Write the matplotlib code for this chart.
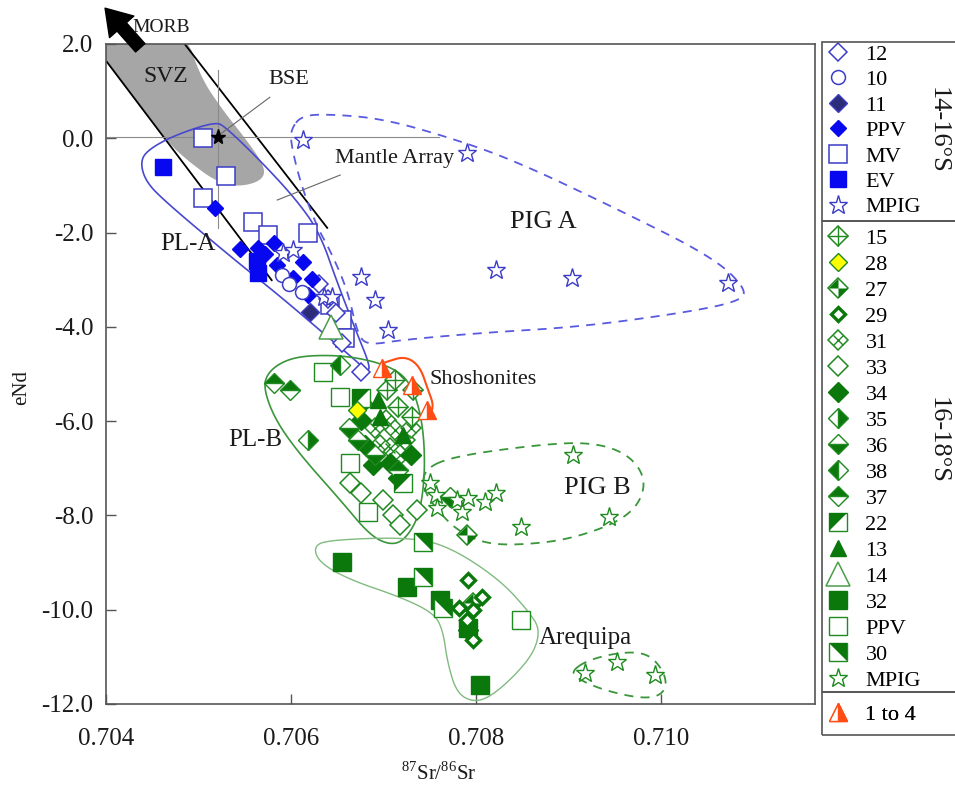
import numpy as np
import matplotlib
matplotlib.use("Agg")
import matplotlib.pyplot as plt
from matplotlib.path import Path
from matplotlib.patches import Polygon, Rectangle
from matplotlib.legend_handler import HandlerTuple

plt.rcParams["font.family"] = ["Liberation Serif", "DejaVu Serif"]
plt.rcParams["mathtext.fontset"] = "custom"
plt.rcParams["mathtext.rm"] = "Liberation Serif"

# ─── data (87Sr/86Sr, eNd) ────────────────────────────────────────────────────

# 14-16°S
sr_12 = [0.70675, 0.70655, 0.70630, 0.70640, 0.70648]
nd_12 = [-4.95, -4.35, -3.10, -3.40, -3.70]
sr_10 = [0.70612, 0.70590, 0.70598]
nd_10 = [-3.26, -2.90, -3.10]
sr_11 = [0.70620]
nd_11 = [-3.68]
sr_ppv_a = [0.70518, 0.70564, 0.70581, 0.70585, 0.70613, 0.70602, 0.70623, 0.70618, 0.70545, 0.70572]
nd_ppv_a = [-1.48, -2.33, -2.22, -2.69, -2.62, -2.97, -2.99, -3.32, -2.35, -2.45]
sr_mv = [0.70505, 0.70530, 0.70505, 0.70559, 0.70575, 0.70618, 0.70642, 0.70655, 0.70658]
nd_mv = [0.00, -0.80, -1.27, -1.78, -2.05, -2.01, -3.54, -3.86, -4.24]
sr_ev = [0.70462, 0.70563, 0.70564]
nd_ev = [-0.61, -2.60, -2.85]
sr_mpig_a = [0.70591, 0.70602, 0.70635, 0.70644, 0.70613, 0.70790, 0.70675, 0.70691,
             0.70705, 0.70821, 0.70904, 0.71072]
nd_mpig_a = [-2.43, -2.37, -3.37, -3.37, -0.04, -0.31, -2.94, -3.43, -4.07, -2.80, -2.96, -3.08]

# 16-18°S
sr_15 = [0.70704, 0.70715, 0.70732, 0.70712, 0.70731]
nd_15 = [-5.34, -5.70, -5.34, -5.13, -5.91]
sr_28 = [0.70671]
nd_28 = [-5.76]
sr_27 = [0.70790, 0.70797]
nd_27 = [-8.42, -9.86]
sr_29 = [0.70791, 0.70806, 0.70796, 0.70781, 0.70790, 0.70796]
nd_29 = [-9.37, -9.73, -10.01, -9.96, -10.22, -10.64]
sr_31 = [0.70691, 0.70702, 0.70712, 0.70723, 0.70707, 0.70718, 0.70696, 0.70729]
nd_31 = [-6.15, -5.98, -6.19, -6.40, -6.57, -6.72, -6.51, -6.15]
sr_33 = [0.70664, 0.70675, 0.70699, 0.70710, 0.70736, 0.70718]
nd_33 = [-7.31, -7.52, -7.67, -7.99, -7.89, -8.20]
sr_34 = [0.70675, 0.70688, 0.70707, 0.70715, 0.70729, 0.70791, 0.70680]
nd_34 = [-5.98, -6.93, -6.89, -7.21, -6.72, -10.43, -6.51]
sr_35 = [0.70618, 0.70677]
nd_35 = [-6.40, -5.62]
sr_36 = [0.70662, 0.70672, 0.70691, 0.70772]
nd_36 = [-6.15, -6.40, -6.72, -7.61]
sr_38 = [0.70653]
nd_38 = [-4.81]
sr_37 = [0.70581, 0.70599, 0.70716]
nd_37 = [-5.19, -5.34, -7.04]
sr_22 = [0.70675, 0.70721]
nd_22 = [-5.51, -7.31]
sr_13 = [0.70696, 0.70721, 0.70694]
nd_13 = [-5.91, -6.29, -5.55]
sr_14 = [0.70643]
nd_14 = [-4.00]
sr_32 = [0.70655, 0.70725, 0.70761, 0.70804, 0.70791]
nd_32 = [-8.99, -9.52, -9.79, -11.60, -10.39]
sr_ppv_b = [0.70634, 0.70653, 0.70664, 0.70683, 0.70848]
nd_ppv_b = [-4.96, -5.49, -6.89, -7.93, -10.22]
sr_30 = [0.70742, 0.70742, 0.70764]
nd_30 = [-8.56, -9.31, -9.96]
sr_mpig_b = [0.70750, 0.70756, 0.70758, 0.70779, 0.70785, 0.70791, 0.70810, 0.70821,
             0.70848, 0.70905, 0.70943, 0.70918, 0.70952, 0.70993]
nd_mpig_b = [-7.31, -7.57, -7.84, -7.67, -7.93, -7.63, -7.72, -7.52,
             -8.25, -6.72, -8.03, -11.34, -11.11, -11.39]

# Shoshonites, samples 1 to 4
sr_sho = [0.70698, 0.70731, 0.70747]
nd_sho = [-4.87, -5.23, -5.76]

# reference fields (outline vertices, smoothed before drawing)
svz_field = [(0.70390, 2.30), (0.70485, 2.30), (0.70502, 1.30), (0.70526, 0.60), (0.70552, -0.04),
             (0.70572, -0.61), (0.70569, -0.89), (0.70545, -1.03), (0.70520, -0.93),
             (0.70491, -0.52), (0.70464, -0.04), (0.70401, 1.60), (0.70390, 1.85)]
pl_a = [(0.70437, -0.46), (0.70448, -0.21), (0.70475, 0.07), (0.70518, 0.35), (0.70529, 0.24),
        (0.70566, -0.46), (0.70606, -1.31), (0.70631, -2.01), (0.70650, -3.07), (0.70671, -4.13),
        (0.70685, -4.81), (0.70683, -4.96), (0.70669, -4.70), (0.70631, -4.07), (0.70588, -3.35),
        (0.70534, -2.50), (0.70462, -1.31), (0.70442, -0.89)]
pig_a = [(0.70601, 0.22), (0.70610, 0.45), (0.70631, 0.52), (0.70696, 0.43), (0.70769, 0.03),
         (0.70840, -0.46), (0.70948, -1.46), (0.71056, -2.52), (0.71093, -3.22), (0.71083, -3.47),
         (0.71021, -3.71), (0.70912, -4.00), (0.70804, -4.13), (0.70718, -4.28), (0.70683, -4.39),
         (0.70672, -4.17), (0.70661, -3.22), (0.70642, -2.37), (0.70628, -1.88), (0.70610, -0.95),
         (0.70599, -0.04)]
pl_b = [(0.70570, -5.30), (0.70575, -4.96), (0.70594, -4.70), (0.70621, -4.60), (0.70664, -4.62),
        (0.70707, -4.83), (0.70729, -5.17), (0.70742, -5.98), (0.70745, -7.04), (0.70739, -7.99),
        (0.70723, -8.52), (0.70707, -8.63), (0.70685, -8.42), (0.70653, -7.67), (0.70610, -6.72),
        (0.70583, -5.98)]
pig_b = [(0.70743, -7.04), (0.70772, -6.76), (0.70862, -6.51), (0.70923, -6.44), (0.70963, -6.68),
         (0.70983, -7.19), (0.70977, -7.74), (0.70952, -8.16), (0.70898, -8.52), (0.70844, -8.63),
         (0.70808, -8.59), (0.70779, -8.31), (0.70758, -7.89), (0.70743, -7.46)]
arequipa = [(0.70624, -8.67), (0.70639, -8.52), (0.70729, -8.46), (0.70772, -8.67), (0.70826, -9.37),
            (0.70858, -10.07), (0.70869, -10.43), (0.70862, -10.92), (0.70840, -11.43),
            (0.70815, -11.85), (0.70797, -11.96), (0.70779, -11.77), (0.70769, -11.13),
            (0.70764, -10.43), (0.70754, -10.07), (0.70718, -9.73), (0.70664, -9.37), (0.70631, -9.01)]
areq_pig = [(0.70902, -11.32), (0.70920, -11.07), (0.70956, -10.90), (0.70985, -10.92),
            (0.71002, -11.28), (0.71006, -11.64), (0.70996, -11.85), (0.70974, -11.87),
            (0.70937, -11.70), (0.70912, -11.49)]
shoshonite_arc = [(0.70702, -4.75), (0.70723, -4.62), (0.70739, -4.83), (0.70748, -5.34),
                  (0.70754, -5.66), (0.70750, -5.87)]

mantle_left = ([0.70401, 0.70579], [1.62, -3.01])
mantle_right = ([0.70485, 0.70639], [2.00, -1.90])
bse = (0.70521, 0.03)

x_ticks = [0.704, 0.706, 0.708, 0.710]
x_tick_labels = ["0.704", "0.706", "0.708", "0.710"]
y_ticks = [2, 0, -2, -4, -6, -8, -10, -12]
y_tick_labels = ["2.0", "0.0", "-2.0", "-4.0", "-6.0", "-8.0", "-10.0", "-12.0"]


# ─── helpers ──────────────────────────────────────────────────────────────────

def chaikin(pts, n=4, closed=True):
    """Corner-cutting to turn an outline into a smooth curve."""
    p = np.asarray(pts, float)
    for _ in range(n):
        if closed:
            q = np.roll(p, -1, axis=0)
            a = 0.75 * p + 0.25 * q
            b = 0.25 * p + 0.75 * q
            p = np.empty((2 * len(a), 2))
            p[0::2], p[1::2] = a, b
        else:
            a = 0.75 * p[:-1] + 0.25 * p[1:]
            b = 0.25 * p[:-1] + 0.75 * p[1:]
            mid = np.empty((2 * len(a), 2))
            mid[0::2], mid[1::2] = a, b
            p = np.vstack([p[:1], mid, p[-1:]])
    return p


M, L, C = Path.MOVETO, Path.LINETO, Path.CLOSEPOLY
QUARTERS = Path([(0, 0), (-1, 0), (0, 1), (0, 0), (0, 0), (1, 0), (0, -1), (0, 0)],
                [M, L, L, C, M, L, L, C])
TRI_UL = Path([(-1, -1), (-1, 1), (1, 1), (-1, -1)], [M, L, L, C])
TRI_UR = Path([(-1, 1), (1, 1), (1, -1), (-1, 1)], [M, L, L, C])

BLUE = "#3c3cc8"
BLUE_F = "#0808f0"
NAVY = "#2c2c78"
GREEN = "#0b780b"
GREEN_E = "#1f8a1f"
ORANGE = "#ff4d14"

D = 10.0   # diamond size (green group)


def open_d(ms=D, ec=GREEN_E, mew=1.1):
    return dict(marker="D", ms=ms, mfc="white", mec=ec, mew=mew)


def half_d(side):
    return dict(marker="D", ms=D, mfc=GREEN, mfcalt="white", mec=GREEN_E, mew=1.0, fillstyle=side)


STYLES = {
    "12": [dict(marker="D", ms=9.5, mfc="white", mec=BLUE, mew=1.1)],
    "10": [dict(marker="o", ms=10, mfc="white", mec=BLUE, mew=1.1)],
    "11": [dict(marker="D", ms=9, mfc=NAVY, mec=BLUE, mew=1.0)],
    "PPV_a": [dict(marker="D", ms=8, mfc=BLUE_F, mec=BLUE_F, mew=1.0)],
    "MV": [dict(marker="s", ms=13, mfc="white", mec=BLUE, mew=1.1)],
    "EV": [dict(marker="s", ms=12, mfc=BLUE_F, mec=BLUE_F, mew=1.0)],
    "MPIG_a": [dict(marker="*", ms=14, mfc="white", mec=BLUE, mew=1.0)],
    "15": [open_d(), dict(marker="+", ms=D * 1.414, mec=GREEN_E, mew=1.0)],
    "28": [dict(marker="D", ms=D * 0.9, mfc="#ffff00", mec=GREEN_E, mew=1.0)],
    "27": [open_d(), dict(marker=QUARTERS, ms=D * 1.414, mfc=GREEN, mec="none", mew=0)],
    "29": [open_d(ms=7.5, ec=GREEN, mew=2.4)],
    "31": [open_d(), dict(marker="x", ms=D * 0.707, mec=GREEN_E, mew=1.0)],
    "33": [open_d()],
    "34": [dict(marker="D", ms=D, mfc=GREEN, mec=GREEN, mew=1.0)],
    "35": [half_d("right")],
    "36": [half_d("bottom")],
    "38": [half_d("left")],
    "37": [half_d("top")],
    "22": [dict(marker="s", ms=13, mfc="white", mec=GREEN_E, mew=1.0),
           dict(marker=TRI_UL, ms=13, mfc=GREEN, mec="none", mew=0)],
    "13": [dict(marker="^", ms=12, mfc=GREEN, mec=GREEN, mew=1.0)],
    "14": [dict(marker="^", ms=17, mfc="white", mec="#4a9e4a", mew=1.1)],
    "32": [dict(marker="s", ms=12.5, mfc=GREEN, mec=GREEN, mew=1.0)],
    "PPV_b": [dict(marker="s", ms=13, mfc="white", mec=GREEN_E, mew=1.0)],
    "30": [dict(marker="s", ms=13, mfc="white", mec=GREEN_E, mew=1.0),
           dict(marker=TRI_UR, ms=13, mfc=GREEN, mec="none", mew=0)],
    "MPIG_b": [dict(marker="*", ms=14, mfc="white", mec=GREEN_E, mew=1.0)],
    "tri": [dict(marker="^", ms=13, mfc=ORANGE, mfcalt="white", mec=ORANGE, mew=1.0,
                 fillstyle="right")],
}


def draw(ax, xs, ys, key, z=5):
    return tuple(ax.plot(xs, ys, ls="none", zorder=z, **layer)[0] for layer in STYLES[key])


# ─── figure ───────────────────────────────────────────────────────────────────

fig = plt.figure(figsize=(9.55, 7.87), dpi=100)
ax = fig.add_axes([106 / 955, 83 / 787, 709 / 955, 660 / 787])
ax.set_xlim(0.704, 0.71166)
ax.set_ylim(-12, 2)

# fields
ax.add_patch(Polygon(chaikin(svz_field, 3), closed=True, fc="#a6a6a6", ec="none", zorder=1))
ax.plot(*mantle_left, color="black", lw=1.3, zorder=2)
ax.plot(*mantle_right, color="black", lw=1.3, zorder=2)
ax.plot([0.7040, 0.7076], [bse[1], bse[1]], color="#8a8a8a", lw=0.8, zorder=2)
ax.plot([bse[0], bse[0]], [1.45, -1.9], color="#8a8a8a", lw=0.8, zorder=2)

ax.add_patch(Polygon(chaikin(pl_a), closed=True, fill=False, ec="#4848d0", lw=1.2, zorder=3))
ax.add_patch(Polygon(chaikin(pig_a), closed=True, fill=False, ec="#5a5ae0", lw=1.3,
                     ls=(0, (5, 4)), zorder=3))
ax.add_patch(Polygon(chaikin(pl_b), closed=True, fill=False, ec="#3a963a", lw=1.2, zorder=3))
ax.add_patch(Polygon(chaikin(pig_b), closed=True, fill=False, ec="#3a963a", lw=1.3,
                     ls=(0, (5, 4)), zorder=3))
ax.add_patch(Polygon(chaikin(arequipa), closed=True, fill=False, ec="#80bb80", lw=1.0, zorder=3))
ax.add_patch(Polygon(chaikin(areq_pig), closed=True, fill=False, ec="#3a963a", lw=1.3,
                     ls=(0, (5, 4)), zorder=3))
arc = chaikin(shoshonite_arc, closed=False)
ax.plot(arc[:, 0], arc[:, 1], color=ORANGE, lw=1.5, zorder=3)

# points
h = {}
h["12"] = draw(ax, sr_12, nd_12, "12")
h["PPV_a"] = draw(ax, sr_ppv_a, nd_ppv_a, "PPV_a")
h["MV"] = draw(ax, sr_mv, nd_mv, "MV", z=4)
h["EV"] = draw(ax, sr_ev, nd_ev, "EV")
h["MPIG_a"] = draw(ax, sr_mpig_a, nd_mpig_a, "MPIG_a")
h["10"] = draw(ax, sr_10, nd_10, "10")
h["11"] = draw(ax, sr_11, nd_11, "11")

h["PPV_b"] = draw(ax, sr_ppv_b, nd_ppv_b, "PPV_b", z=4)
h["14"] = draw(ax, sr_14, nd_14, "14")
h["33"] = draw(ax, sr_33, nd_33, "33")
h["31"] = draw(ax, sr_31, nd_31, "31")
h["34"] = draw(ax, sr_34, nd_34, "34")
h["36"] = draw(ax, sr_36, nd_36, "36")
h["37"] = draw(ax, sr_37, nd_37, "37")
h["35"] = draw(ax, sr_35, nd_35, "35")
h["38"] = draw(ax, sr_38, nd_38, "38")
h["15"] = draw(ax, sr_15, nd_15, "15")
h["13"] = draw(ax, sr_13, nd_13, "13")
h["22"] = draw(ax, sr_22, nd_22, "22")
h["28"] = draw(ax, sr_28, nd_28, "28")
h["32"] = draw(ax, sr_32, nd_32, "32")
h["30"] = draw(ax, sr_30, nd_30, "30")
h["27"] = draw(ax, sr_27, nd_27, "27")
h["29"] = draw(ax, sr_29, nd_29, "29")
h["MPIG_b"] = draw(ax, sr_mpig_b, nd_mpig_b, "MPIG_b")
h["tri"] = draw(ax, sr_sho, nd_sho, "tri", z=6)

ax.plot(*bse, marker="*", ms=11, color="black", ls="none", zorder=7)

# annotations
txt = dict(color="#1a1a1a", zorder=8)
ax.text(0.70464, 1.32, "SVZ", fontsize=17, ha="center", va="center", **txt)
ax.text(0.70598, 1.24, "BSE", fontsize=16, ha="center", va="center", **txt)
ax.plot([0.70577, 0.70525], [0.87, 0.11], color="#666666", lw=0.8, zorder=7)
ax.text(0.70712, -0.42, "Mantle Array", fontsize=16, ha="center", va="center", **txt)
ax.plot([0.70653, 0.70585], [-0.78, -1.31], color="#666666", lw=0.8, zorder=7)
ax.text(0.70872, -1.78, "PIG A", fontsize=19, ha="center", va="center", **txt)
ax.text(0.70489, -2.24, "PL-A", fontsize=18, ha="center", va="center", **txt)
ax.text(0.70561, -6.40, "PL-B", fontsize=18, ha="center", va="center", **txt)
ax.text(0.70750, -5.12, "Shoshonites", fontsize=16, ha="left", va="center", **txt)
ax.text(0.70931, -7.42, "PIG B", fontsize=19, ha="center", va="center", **txt)
ax.text(0.70918, -10.60, "Arequipa", fontsize=18, ha="center", va="center", **txt)

ax.annotate("", xy=(0.70399, 2.76), xytext=(0.70437, 1.92), annotation_clip=False,
            arrowprops=dict(arrowstyle="simple,head_width=1.3,head_length=1.0,tail_width=0.5",
                            color="black", mutation_scale=18, shrinkA=0, shrinkB=0))
ax.text(0.70428, 2.36, "MORB", fontsize=14, ha="left", va="center", clip_on=False, **txt)

# axes styling
ax.set_xticks(x_ticks)
ax.set_xticklabels(x_tick_labels)
ax.set_yticks(y_ticks)
ax.set_yticklabels(y_tick_labels)
ax.tick_params(direction="in", length=7, width=1.0, color="#555555", labelsize=18,
               labelcolor="#1a1a1a", top=False, right=False)
ax.tick_params(axis="x", pad=17)
ax.tick_params(axis="y", pad=9)
for s in ax.spines.values():
    s.set_color("#555555")
    s.set_linewidth(1.2)

ax.set_xlabel(r"$^{87}$Sr/$^{86}$Sr", fontsize=15, color="#1a1a1a")
ax.xaxis.set_label_coords(0.47, -0.088)
ax.set_ylabel("eNd", fontsize=15, color="#1a1a1a")
ax.yaxis.set_label_coords(-0.105, 0.48)

# legend boxes
box_x = 822 / 955
for top_px, bot_px in [(42, 221), (221, 692), (692, 735)]:
    fig.add_artist(Rectangle((box_x, 1 - bot_px / 787), 0.2, (bot_px - top_px) / 787,
                             transform=fig.transFigure, fill=False, ec="#555555", lw=1.2))

groups = [
    (42, 0.22, [("12", "12"), ("10", "10"), ("11", "11"), ("PPV_a", "PPV"), ("MV", "MV"),
                ("EV", "EV"), ("MPIG_a", "MPIG")]),
    (226, 0.245, [("15", "15"), ("28", "28"), ("27", "27"), ("29", "29"), ("31", "31"),
                  ("33", "33"), ("34", "34"), ("35", "35"), ("36", "36"), ("38", "38"),
                  ("37", "37"), ("22", "22"), ("13", "13"), ("14", "14"), ("32", "32"),
                  ("PPV_b", "PPV"), ("30", "30"), ("MPIG_b", "MPIG")]),
    (702, 0.245, [("tri", "1 to 4")]),
]
for top_px, spacing, entries in groups:
    leg = ax.legend([h[k] for k, _ in entries], [lab for _, lab in entries],
                    loc="upper left", bbox_to_anchor=(821 / 955, 1 - top_px / 787),
                    bbox_transform=fig.transFigure, frameon=False, fontsize=16,
                    numpoints=1, handlelength=1.3, handletextpad=0.6, labelspacing=spacing,
                    borderaxespad=0, borderpad=0.1,
                    handler_map={tuple: HandlerTuple(ndivide=1, pad=0)})
    ax.add_artist(leg)

fig.text(938 / 955, 1 - 130 / 787, "14-16°S", rotation=270, fontsize=19,
         ha="center", va="center", color="#1a1a1a")
fig.text(938 / 955, 1 - 440 / 787, "16-18°S", rotation=270, fontsize=19,
         ha="center", va="center", color="#1a1a1a")

fig.savefig("out.png", dpi=100)
